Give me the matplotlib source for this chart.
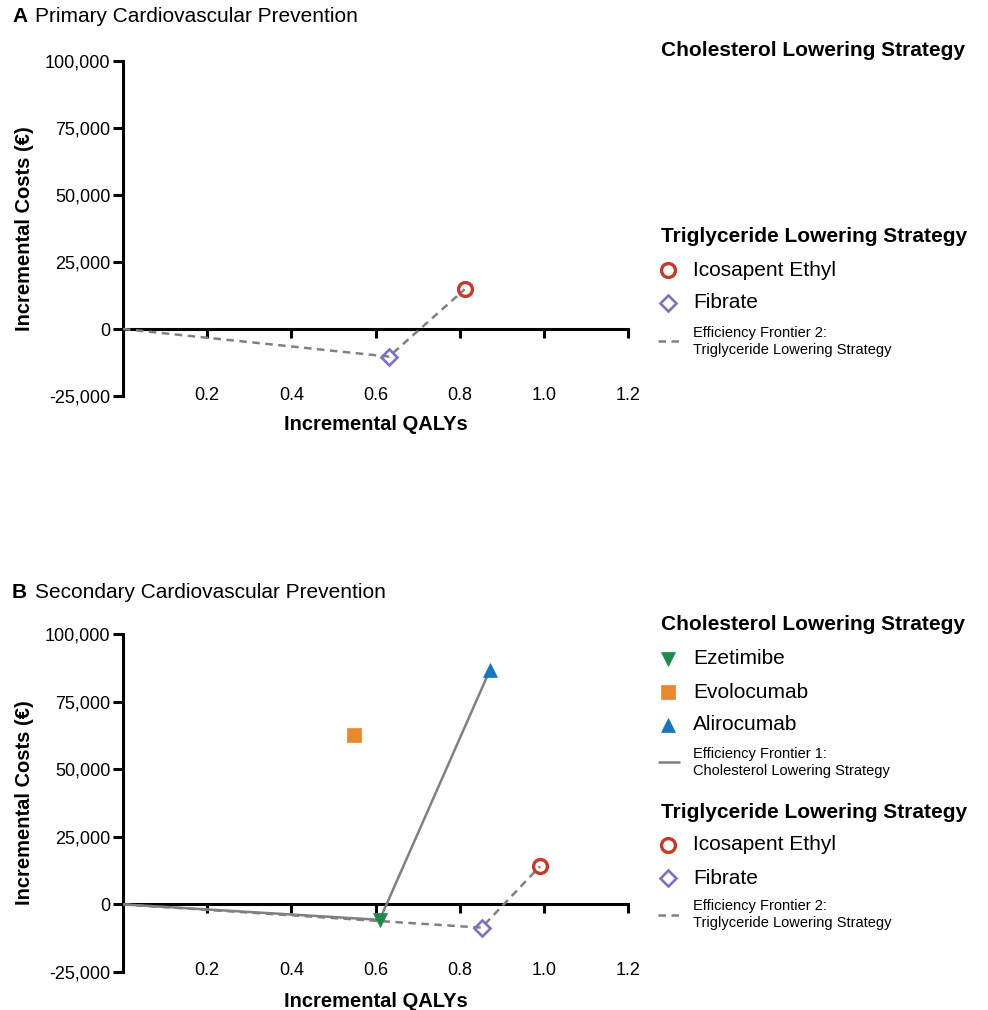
import matplotlib
matplotlib.use("Agg")
import matplotlib.pyplot as plt
from matplotlib.ticker import FuncFormatter

plt.rcParams['font.family'] = ['Liberation Sans', 'DejaVu Sans']

# ---- data -------------------------------------------------------------
# Panel A: primary cardiovascular prevention (triglyceride strategy only)
a_tg_names = ["Icosapent Ethyl", "Fibrate"]
a_tg_qalys = [0.812, 0.632]
a_tg_costs = [14800, -10300]

# Panel B: secondary cardiovascular prevention
b_chol_names = ["Ezetimibe", "Evolocumab", "Alirocumab"]
b_chol_qalys = [0.610, 0.550, 0.872]
b_chol_costs = [-5700, 62600, 86700]

b_tg_names = ["Icosapent Ethyl", "Fibrate"]
b_tg_qalys = [0.991, 0.852]
b_tg_costs = [14100, -8600]

# efficiency frontiers: comparator at origin, then the efficient options in order
frontier1_order = ["Ezetimibe", "Alirocumab"]
frontier2_order = ["Fibrate", "Icosapent Ethyl"]

x_ticks = [0.2, 0.4, 0.6, 0.8, 1.0, 1.2]
y_ticks = [-25000, 0, 25000, 50000, 75000, 100000]

# ---- styles -----------------------------------------------------------
GRAY = "#808080"
styles = {
    "Ezetimibe":       dict(marker="v", ms=10.5, color="#1E8A4C", mfc="#1E8A4C", mew=0.5),
    "Evolocumab":      dict(marker="s", ms=10.3, color="#E8892B", mfc="#E8892B", mew=0.5),
    "Alirocumab":      dict(marker="^", ms=10.5, color="#1B75BC", mfc="#1B75BC", mew=0.5),
    "Icosapent Ethyl": dict(marker="o", ms=10.0, color="#C43B2A", mfc="none", mew=2.4),
    "Fibrate":         dict(marker="D", ms=7.8, color="#7B73BC", mfc="none", mew=1.9),
}
frontier1_style = dict(color=GRAY, lw=1.8, ls="-", solid_capstyle="butt")
frontier2_style = dict(color=GRAY, lw=1.8, ls=(0, (3.0, 2.2)))

W, H = 988, 1010
fig = plt.figure(figsize=(W / 100, H / 100), dpi=100)


def px_axes(left, top, right, bottom):
    return fig.add_axes([left / W, 1 - bottom / H, (right - left) / W, (bottom - top) / H])


def style_axes(ax):
    ax.set_xlim(0, 1.2)
    ax.set_ylim(-25000, 100000)
    ax.spines["top"].set_visible(False)
    ax.spines["right"].set_visible(False)
    ax.spines["bottom"].set_position(("data", 0))
    for s in ("left", "bottom"):
        ax.spines[s].set_linewidth(2.2)
    ax.set_xticks(x_ticks)
    ax.set_yticks(y_ticks)
    ax.xaxis.set_major_formatter(FuncFormatter(lambda v, p: f"{v:.1f}"))
    ax.yaxis.set_major_formatter(FuncFormatter(lambda v, p: f"{v:,.0f}"))
    ax.tick_params(axis="both", width=2.2, labelsize=13, colors="black")
    ax.tick_params(axis="x", length=6.5, pad=35)
    ax.tick_params(axis="y", length=7, pad=2)
    ax.set_xlabel("Incremental QALYs", fontsize=14.5, fontweight="bold")
    ax.set_ylabel("Incremental Costs (€)", fontsize=14.5, fontweight="bold")
    ax.xaxis.set_label_coords(0.5, -0.058)
    ax.yaxis.set_label_coords(-0.176, 0.5)


def frontier(names, qalys, costs, order):
    lookup = dict(zip(names, zip(qalys, costs)))
    xs = [0.0] + [lookup[n][0] for n in order]
    ys = [0.0] + [lookup[n][1] for n in order]
    return xs, ys


def scatter(ax, names, qalys, costs):
    for n, q, c in zip(names, qalys, costs):
        st = styles[n]
        ax.plot([q], [c], ls="none", marker=st["marker"], ms=st["ms"],
                mfc=st["mfc"], mec=st["color"], mew=st["mew"],
                clip_on=False, zorder=5)


# ---- panel A ----------------------------------------------------------
axA = px_axes(123, 61, 628, 396)
style_axes(axA)
fx, fy = frontier(a_tg_names, a_tg_qalys, a_tg_costs, frontier2_order)
axA.plot(fx, fy, clip_on=False, zorder=3, **frontier2_style)
scatter(axA, a_tg_names, a_tg_qalys, a_tg_costs)

# ---- panel B ----------------------------------------------------------
axB = px_axes(123, 634, 628, 972)
style_axes(axB)
fx2, fy2 = frontier(b_tg_names, b_tg_qalys, b_tg_costs, frontier2_order)
axB.plot(fx2, fy2, clip_on=False, zorder=3, **frontier2_style)
fx1, fy1 = frontier(b_chol_names, b_chol_qalys, b_chol_costs, frontier1_order)
axB.plot(fx1, fy1, clip_on=False, zorder=3, **frontier1_style)
scatter(axB, b_tg_names, b_tg_qalys, b_tg_costs)
scatter(axB, b_chol_names, b_chol_qalys, b_chol_costs)

# ---- panel titles -----------------------------------------------------
for letter, title, y in [("A", "Primary Cardiovascular Prevention", 17),
                         ("B", "Secondary Cardiovascular Prevention", 592)]:
    fig.text(12 / W, 1 - y / H, letter, fontsize=15, fontweight="bold", va="center")
    fig.text(35 / W, 1 - y / H, title, fontsize=15, va="center")

# ---- legends (drawn on a transparent overlay in pixel units) ----------
ov = fig.add_axes([0, 0, 1, 1], zorder=10)
ov.set_xlim(0, W)
ov.set_ylim(H, 0)
ov.axis("off")

HEAD_X, KEY_X, TEXT_X = 661, 668, 693


def header(text, y):
    ov.text(HEAD_X, y, text, fontsize=15, fontweight="bold", va="center", ha="left")


def entry(name, y):
    st = styles[name]
    ov.plot([KEY_X], [y], ls="none", marker=st["marker"], ms=st["ms"],
            mfc=st["mfc"], mec=st["color"], mew=st["mew"], clip_on=False)
    ov.text(TEXT_X, y, name, fontsize=15, va="center", ha="left")


def line_entry(style, line1, line2, y1, y2, ykey):
    ov.plot([658, 680], [ykey, ykey], clip_on=False, **style)
    ov.text(TEXT_X, y1, line1, fontsize=10.5, va="center", ha="left")
    ov.text(TEXT_X, y2, line2, fontsize=10.5, va="center", ha="left")


# panel A legend
header("Cholesterol Lowering Strategy", 50)
header("Triglyceride Lowering Strategy", 237)
entry("Icosapent Ethyl", 270)
entry("Fibrate", 303)
line_entry(frontier2_style, "Efficiency Frontier 2:", "Triglyceride Lowering Strategy", 333, 350, 341)

# panel B legend
header("Cholesterol Lowering Strategy", 625)
entry("Ezetimibe", 659)
entry("Evolocumab", 692)
entry("Alirocumab", 725)
line_entry(frontier1_style, "Efficiency Frontier 1:", "Cholesterol Lowering Strategy", 754, 771, 762)
header("Triglyceride Lowering Strategy", 812)
entry("Icosapent Ethyl", 845)
entry("Fibrate", 878)
line_entry(frontier2_style, "Efficiency Frontier 2:", "Triglyceride Lowering Strategy", 906, 923, 915)

fig.savefig("out.png", dpi=100)
